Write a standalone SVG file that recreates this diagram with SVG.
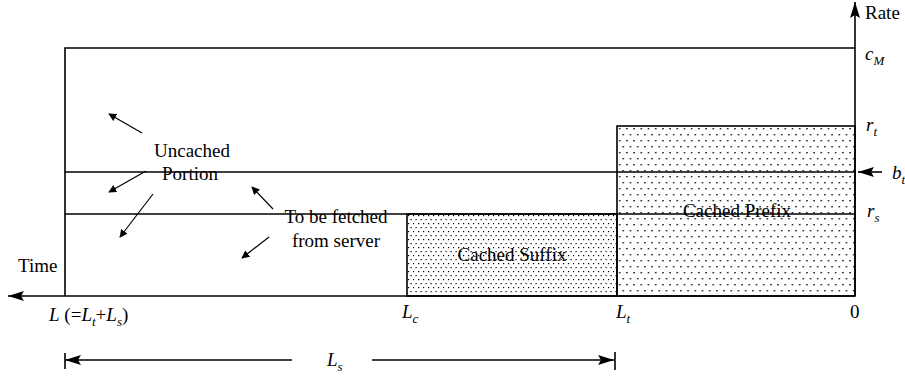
<svg xmlns="http://www.w3.org/2000/svg" width="905" height="379" viewBox="0 0 905 379">
<style>
text{font-family:"Liberation Serif","Times New Roman",serif;font-size:19px;fill:#000}
.m{font-style:italic}
.sub{font-size:13px}
.ln{stroke:#000;stroke-width:1.6;fill:none}
.thin{stroke:#000;stroke-width:1.2;fill:none}
</style>
<defs>
<pattern id="sparse" patternUnits="userSpaceOnUse" x="617" y="126" width="7.2" height="12">
<rect x="2" y="2" width="1.4" height="1.4" fill="#000"/>
<rect x="5.6" y="8" width="1.4" height="1.4" fill="#000"/>
</pattern>
<pattern id="dense" patternUnits="userSpaceOnUse" x="407" y="214" width="5" height="8">
<rect x="1" y="1" width="1.2" height="1.2" fill="#000"/>
<rect x="3.5" y="5" width="1.2" height="1.2" fill="#000"/>
</pattern>
<marker id="ah" viewBox="0 0 10 10" refX="9" refY="5" markerWidth="8" markerHeight="8" markerUnits="userSpaceOnUse" orient="auto">
<path d="M0,0 L10,5 L0,10 z" fill="#000"/>
</marker>
<marker id="big" viewBox="0 0 16 10" refX="16" refY="5" markerWidth="16" markerHeight="10" markerUnits="userSpaceOnUse" orient="auto">
<path d="M0,0 L16,5 L0,10 L3,5 z" fill="#000"/>
</marker>
</defs>
<rect width="905" height="379" fill="#fff"/>

<g id="cached-prefix">
<rect x="617" y="126" width="238" height="170" fill="url(#sparse)" stroke="#000" stroke-width="1.6"/>
<text x="737" y="217" text-anchor="middle">Cached Prefix</text>
</g>
<g id="cached-suffix">
<rect x="407" y="214" width="210" height="82" fill="url(#dense)" stroke="#000" stroke-width="1.6"/>
<text x="512" y="261" text-anchor="middle">Cached Suffix</text>
</g>

<g id="frame">
<path class="ln" d="M65,296 V48 H855"/>
<line class="ln" x1="65" y1="172" x2="855" y2="172"/>
<line class="ln" x1="65" y1="214" x2="855" y2="214"/>
</g>

<g id="connectors">
<line class="ln" x1="855" y1="296" x2="855" y2="2" marker-end="url(#big)"/>
<line class="ln" x1="855" y1="296" x2="8" y2="296" marker-end="url(#big)"/>
<line class="ln" x1="882" y1="172" x2="858" y2="172" marker-end="url(#big)"/>
<line class="thin" x1="142" y1="133" x2="109" y2="114" marker-end="url(#ah)"/>
<line class="thin" x1="146" y1="171" x2="109" y2="192" marker-end="url(#ah)"/>
<line class="thin" x1="153" y1="194" x2="120" y2="237" marker-end="url(#ah)"/>
<line class="thin" x1="273" y1="209" x2="252" y2="187" marker-end="url(#ah)"/>
<line class="thin" x1="269" y1="237" x2="242" y2="258" marker-end="url(#ah)"/>
<line class="ln" x1="292" y1="360" x2="65" y2="360" marker-end="url(#big)"/>
<line class="ln" x1="372" y1="360" x2="614" y2="360" marker-end="url(#big)"/>
<line class="ln" x1="65" y1="353" x2="65" y2="369"/>
<line class="ln" x1="615" y1="352" x2="615" y2="370"/>
</g>

<g id="labels">
<text x="865" y="19">Rate</text>
<text x="18" y="272">Time</text>
<text x="865" y="60" class="m">c<tspan class="sub" dy="5">M</tspan></text>
<text x="866" y="131" class="m">r<tspan class="sub" dy="5">t</tspan></text>
<text x="892" y="179" class="m">b<tspan class="sub" dy="5">t</tspan></text>
<text x="867" y="217" class="m">r<tspan class="sub" dy="5">s</tspan></text>
<text x="49" y="321"><tspan class="m">L</tspan> (=<tspan class="m">L</tspan><tspan class="sub m" dy="5">t</tspan><tspan dy="-5">+</tspan><tspan class="m">L</tspan><tspan class="sub m" dy="5">s</tspan><tspan dy="-5">)</tspan></text>
<text x="402" y="318" class="m">L<tspan class="sub" dy="5">c</tspan></text>
<text x="616" y="318" class="m">L<tspan class="sub" dy="5">t</tspan></text>
<text x="850" y="318">0</text>
<text x="327" y="366" class="m">L<tspan class="sub" dy="5">s</tspan></text>
</g>

<g id="uncached-portion">
<text x="192" y="157" text-anchor="middle">Uncached</text>
<text x="190" y="180" text-anchor="middle">Portion</text>
</g>
<g id="to-be-fetched">
<text x="336" y="223" text-anchor="middle">To be fetched</text>
<text x="336" y="247" text-anchor="middle">from server</text>
</g>
</svg>
